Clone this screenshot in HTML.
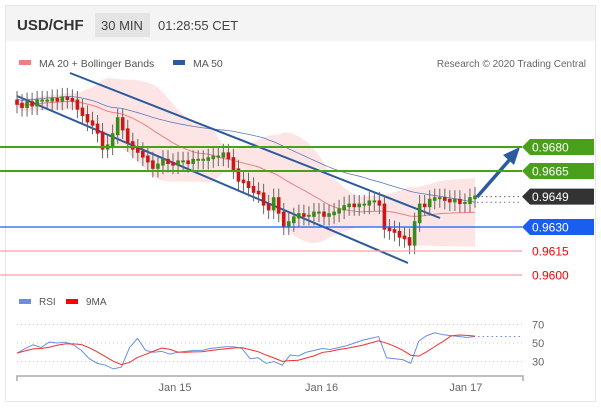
<!DOCTYPE html>
<html><head><meta charset="utf-8">
<style>
body{margin:0;background:#fff;font-family:"Liberation Sans","DejaVu Sans",sans-serif;}
#wrap{position:relative;width:601px;height:410px;overflow:hidden;}
</style></head>
<body>
<div id="wrap">
<svg id="svg" width="601" height="410" xmlns="http://www.w3.org/2000/svg" font-family="Liberation Sans, DejaVu Sans, sans-serif">
<rect x="5.5" y="5.5" width="590" height="396" fill="#fff" stroke="#e6e6e6"/>
<rect x="6" y="6" width="589" height="35" fill="#f4f4f4"/>
<text x="17" y="30" font-size="15" font-weight="bold" fill="#333">USD/CHF</text>
<rect x="95" y="13" width="55" height="24" fill="#e4e4e4"/>
<text x="101" y="30" font-size="13" fill="#444">30 MIN</text>
<text x="158" y="30" font-size="13" fill="#444">01:28:55 CET</text>
<rect x="19" y="60" width="12" height="5" fill="#f08080"/>
<text x="39" y="67" font-size="10.5" fill="#555">MA 20 + Bollinger Bands</text>
<rect x="173" y="60" width="12" height="5" fill="#2c5aa0"/>
<text x="193" y="67" font-size="10.5" fill="#555">MA 50</text>
<text x="586" y="67" font-size="10" fill="#666" text-anchor="end">Research © 2020 Trading Central</text>
<g id="main"></g>
<g id="levels"></g>
<rect x="19" y="299" width="12" height="5" fill="#6a8fe0"/>
<text x="39" y="305" font-size="10" fill="#555">RSI</text>
<rect x="66" y="299" width="12" height="5" fill="#f00"/>
<text x="86" y="305" font-size="10" fill="#555">9MA</text>
<g id="rsi"></g>
</svg>
</div>
<script>
const closes=[0.9707,0.9705,0.9708,0.9706,0.9709,0.9709,0.9709,0.9710,0.9709,0.9711,0.9710,0.9709,0.9704,0.9700,0.9696,0.9694,0.9689,0.9679,0.9681,0.9688,0.9698,0.9691,0.9683,0.9679,0.9677,0.9674,0.9671,0.9667,0.9669,0.9672,0.9670,0.9669,0.9671,0.9671,0.9670,0.9672,0.9672,0.9672,0.9673,0.9674,0.9674,0.9676,0.9673,0.9666,0.9659,0.9658,0.9655,0.9652,0.9651,0.9644,0.9641,0.9648,0.9639,0.9631,0.9633,0.9636,0.9638,0.9637,0.9637,0.9639,0.9639,0.9637,0.9638,0.9639,0.9641,0.9643,0.9644,0.9643,0.9644,0.9644,0.9646,0.9646,0.9644,0.9629,0.9628,0.9627,0.9624,0.9623,0.9619,0.9633,0.9644,0.9643,0.9647,0.9648,0.9648,0.9647,0.9646,0.9647,0.9645,0.9645,0.9648,0.9649];
const levelValues=[0.9680,0.9665,0.9649,0.9630,0.9615,0.9600];
const levelLabels=["0.9680","0.9665","0.9649","0.9630","0.9615","0.9600"];
const rsiValues=[39,44,48,45,51,50,51,48,42,33,28,26,22,24,45,55,42,40,41,38,40,41,42,42,44,45,46,46,44,33,34,28,30,26,37,36,40,42,44,43,45,47,50,53,55,57,34,33,32,28,52,58,61,59,58,57,56,57];
const tickLabels=["Jan 15","Jan 16","Jan 17"];
const tickIndex=[0.345,0.665,0.98];
const NS="http://www.w3.org/2000/svg";
const X0=17,X1=475;
const py=p=>147+(0.9680-p)*16000;
const cx=i=>X0+i*(X1-X0)/(closes.length-1);
const ry=v=>343-(v-50)*0.925;
const rx=i=>X0+i*(X1-X0)/(rsiValues.length-1);
function mk(tag,attrs,parent){const e=document.createElementNS(NS,tag);for(const k in attrs)e.setAttribute(k,attrs[k]);parent.appendChild(e);return e;}
const main=document.getElementById('main');
const up=[],lo=[],mid=[];
closes.forEach((c,i)=>{const s=closes.slice(Math.max(0,i-19),i+1);const m=s.reduce((a,b)=>a+b,0)/s.length;const sd=Math.sqrt(s.reduce((a,b)=>a+(b-m)**2,0)/s.length);mid.push(m);up.push(m+2*sd+0.00015);lo.push(m-2*sd-0.00015);});
let d='M'+closes.map((c,i)=>cx(i)+','+py(up[i])).join(' L')+' L'+closes.map((c,i)=>cx(i)+','+py(lo[i])).reverse().join(' L')+'Z';
const bb=mk('path',{d:d,fill:'#fde0e0',opacity:0.85},main);


const ma20=mk('path',{d:'M'+closes.map((c,i)=>cx(i)+','+py(mid[i])).join(' L'),fill:'none',stroke:'#f08080','stroke-width':1},main);


const ma50=[];closes.forEach((c,i)=>{const s=closes.slice(Math.max(0,i-49),i+1);ma50.push(s.reduce((a,b)=>a+b,0)/s.length+0.0003);});
const m50=mk('path',{d:'M'+closes.map((c,i)=>cx(i)+','+py(ma50[i])).join(' L'),fill:'none',stroke:'#5a7ab8','stroke-width':0.8},main);


const lv=document.getElementById('levels');
const lcol=['#4aa01a','#4aa01a',null,'#1a5ef0','#f4a0a0','#f4a0a0'];
levelValues.forEach((v,k)=>{const y=py(v);
 if(lcol[k]){const l=mk('line',{x1:0,x2:522,y1:y,y2:y,stroke:lcol[k],'stroke-width':k<2?2:1.2},lv);
 
 }
});
const ch1=mk('line',{x1:70,y1:73,x2:440,y2:218,stroke:'#2c5aa0','stroke-width':2},main);


const ch2=mk('line',{x1:17,y1:96,x2:408,y2:263,stroke:'#2c5aa0','stroke-width':2},main);


closes.forEach((c,i)=>{const o=i?closes[i-1]:c+0.0002;const x=cx(i);const hi=Math.max(o,c)+0.0006,lw=Math.min(o,c)-0.0006;
 const g=mk('g',{},main);
 
 
 mk('line',{x1:x,x2:x,y1:py(hi),y2:py(lw),stroke:'#666','stroke-width':1},g);
 const col=c>=o?'#3a8a1a':'#c81818';
 mk('rect',{x:x-1.8,y:py(Math.max(o,c))-1,width:3.6,height:Math.max(2,Math.abs(py(o)-py(c))+2),fill:col},g);
});
const last=closes[closes.length-1];
mk('line',{x1:X1+2,x2:522,y1:py(last),y2:py(last),stroke:'#666','stroke-dasharray':'1.5,3'},main);
mk('line',{x1:X1+2,x2:522,y1:py(ma50[ma50.length-1]),y2:py(ma50[ma50.length-1]),stroke:'#5a7ab8','stroke-dasharray':'1.5,3'},main);
const ar=mk('g',{},main);


mk('line',{x1:477,y1:197,x2:512,y2:157,stroke:'#2c5aa0','stroke-width':3.5},ar);
mk('polygon',{points:'520,147 503,155 514,165',fill:'#2c5aa0'},ar);
const lbg=['#4aa01a','#4aa01a','#333','#1a5ef0',null,null];
levelValues.forEach((v,k)=>{const y=py(v);
 const g=mk('g',{},lv);
 
 
 if(lbg[k]){mk('polygon',{points:`522,${y} 530,${y-8} 594,${y-8} 594,${y+8} 530,${y+8}`,fill:lbg[k]},g);}
 const t=mk('text',{x:532,y:y+4.5,'font-size':12,fill:lbg[k]?'#fff':'#f00'},g);t.textContent=levelLabels[k];
});
const rg=document.getElementById('rsi');
[70,50,30].forEach(v=>{const l=mk('line',{x1:17,x2:523,y1:ry(v),y2:ry(v),stroke:'#ccc','stroke-dasharray':'1,3'},rg);
 
 
 const t=mk('text',{x:532,y:ry(v)+4,'font-size':11,fill:'#666'},rg);t.textContent=v;
 
 });
const rl=mk('path',{d:'M'+rsiValues.map((v,i)=>rx(i)+','+ry(v)).join(' L'),fill:'none',stroke:'#6a8fe0','stroke-width':1},rg);


const ma9=rsiValues.map((v,i)=>{const s=rsiValues.slice(Math.max(0,i-4),i+1);return s.reduce((a,b)=>a+b,0)/s.length;});
const ml=mk('path',{d:'M'+ma9.map((v,i)=>rx(i)+','+ry(v)).join(' L'),fill:'none',stroke:'#f03030','stroke-width':1},rg);


mk('line',{x1:X1+3,x2:523,y1:ry(rsiValues[rsiValues.length-1]),y2:ry(rsiValues[rsiValues.length-1]),stroke:'#6a8fe0','stroke-dasharray':'1.5,3'},rg);
const ax=mk('path',{d:'M17,381 V376 H523 V381',fill:'none',stroke:'#aaa','stroke-width':1.5},rg);


tickLabels.forEach((s,k)=>{const t=mk('text',{x:X0+tickIndex[k]*(X1-X0),y:391,'font-size':11,fill:'#666','text-anchor':'middle'},rg);t.textContent=s;
 
 });
</script>
</body></html>
